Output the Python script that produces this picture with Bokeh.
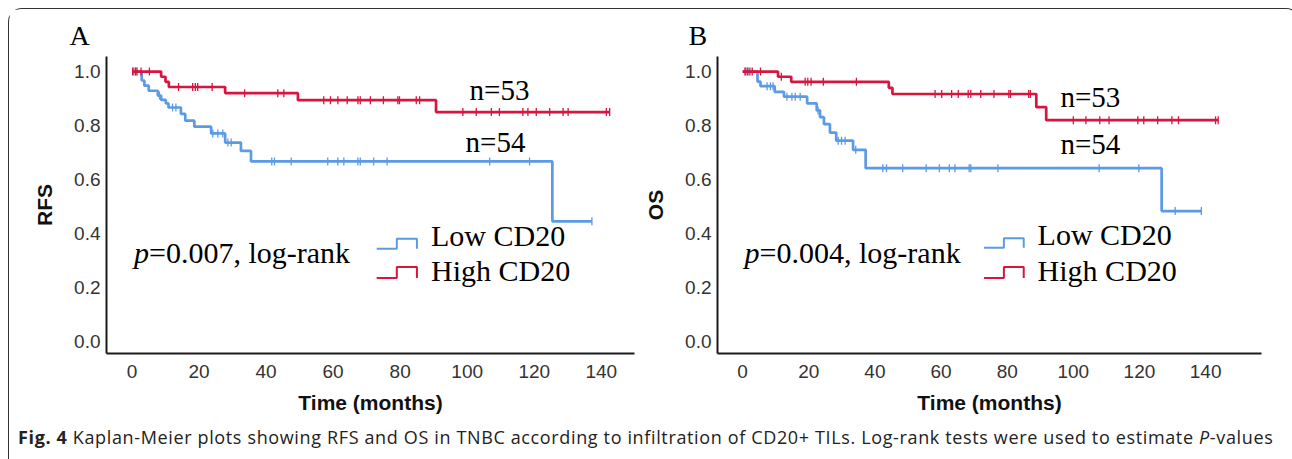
import numpy as np
from bokeh.plotting import figure
from bokeh.models import Label, FixedTicker, PrintfTickFormatter, Range1d, Div, Title
from bokeh.layouts import row, column
from bokeh.embed import file_html
from bokeh.resources import INLINE

# ---------------- data ----------------
x_ticks = [0, 20, 40, 60, 80, 100, 120, 140]
y_ticks = [0.0, 0.2, 0.4, 0.6, 0.8, 1.0]

# Panel A: RFS
rfs_high_t = [0, 8.7, 10.0, 11.0, 27.8, 49.5, 90.7]
rfs_high_s = [1.0, 0.981, 0.962, 0.943, 0.920, 0.894, 0.850]
rfs_high_end = 142.5
rfs_high_cens = [0.2, 1.0, 1.5, 2.7, 5.2, 13.9, 18.1, 18.9, 19.6, 23.9, 33.6, 43.5, 45.3,
                 57.2, 59.2, 61.4, 64.2, 67.4, 68.1, 71.1, 75.0, 79.3, 79.8, 84.8, 85.8,
                 98.7, 102.7, 107.2, 109.6, 116.6, 118.1, 120.6, 124.6, 128.6, 130.1, 141.5, 142.5]

rfs_low_t = [0, 2.9, 3.7, 5.0, 7.7, 8.7, 10.1, 10.9, 14.6, 15.9, 18.6, 23.6, 27.8, 32.5, 35.5, 125.4]
rfs_low_s = [1.0, 0.967, 0.948, 0.929, 0.911, 0.895, 0.882, 0.867, 0.843, 0.818, 0.796, 0.771,
             0.737, 0.706, 0.667, 0.445]
rfs_low_end = 137.2
rfs_low_cens = [0.5, 1.2, 8.2, 12.1, 13.1, 24.1, 25.6, 27.1, 28.6, 29.6, 41.7, 42.5, 47.5, 58.4,
                61.4, 63.2, 67.4, 68.1, 72.1, 76.1, 106.7, 118.6, 137.2]

# Panel B: OS
os_high_t = [0, 10.7, 14.7, 44.2, 45.3, 88.8, 91.8]
os_high_s = [1.0, 0.981, 0.962, 0.940, 0.917, 0.868, 0.820]
os_high_end = 143.8
os_high_cens = [0.7, 1.4, 2.2, 2.9, 5.4, 11.7, 18.9, 19.7, 20.7, 24.4, 34.4, 58.2, 60.2, 63.2,
                65.2, 68.2, 69.0, 72.0, 76.0, 80.5, 81.0, 86.5, 87.0, 100.0, 103.8, 108.0, 110.8,
                119.5, 121.3, 125.5, 129.8, 131.8, 143.0, 143.8]

os_low_t = [0, 4.5, 5.4, 9.7, 12.5, 19.5, 22.4, 23.4, 24.6, 26.4, 28.3, 33.4, 37.2, 126.7]
os_low_s = [1.0, 0.963, 0.946, 0.925, 0.907, 0.882, 0.856, 0.831, 0.805, 0.774, 0.744, 0.710,
            0.642, 0.483]
os_low_end = 138.7
os_low_cens = [0.9, 1.7, 7.4, 8.4, 9.2, 13.4, 14.9, 15.9, 17.4, 22.8, 28.9, 29.9, 31.0, 34.2,
               42.4, 43.5, 48.4, 55.5, 59.5, 62.5, 64.2, 68.5, 69.0, 77.2, 107.8, 119.8, 130.8, 138.7]

low_label = "Low CD20"
high_label = "High CD20"
n_high = "n=53"
n_low = "n=54"

BLUE = "#5b9be6"
RED = "#d7153f"
SERIF = "Liberation Serif"
SANS = "Liberation Sans"


def level_at(times, levels, t):
    idx = np.searchsorted(np.asarray(times), t, side="right") - 1
    return levels[max(idx, 0)]


def km(p, times, levels, end, cens, color):
    xs = list(times) + [end]
    ys = list(levels) + [levels[-1]]
    p.step(xs, ys, mode="after", line_color=color, line_width=2.7)
    cy = [level_at(times, levels, t) for t in cens]
    p.scatter(cens, cy, marker="dash", angle=np.pi / 2, size=8, line_color=color,
              line_width=1.3, fill_color=None)


def make_panel(letter, ylabel, width, left, right, x_end, high, low, pval,
               n_high_pos, n_low_pos, legend_y, letter_offset):
    p = figure(width=width, height=416, output_backend="svg", toolbar_location=None,
               x_range=Range1d(-7.6, x_end), y_range=Range1d(-0.045, 1.056),
               min_border_left=left, min_border_right=right, min_border_top=47,
               min_border_bottom=72)
    p.outline_line_color = None
    p.xgrid.grid_line_color = None
    p.ygrid.grid_line_color = None
    p.background_fill_color = "white"
    p.border_fill_color = "white"

    p.title = Title(text=letter, text_font=SERIF, text_font_size="28px",
                    text_font_style="normal", text_color="black", align="left",
                    offset=letter_offset, standoff=12)

    for ax in (p.xaxis[0], p.yaxis[0]):
        ax.axis_line_color = "#1a1a1a"
        ax.axis_line_width = 2
        ax.major_tick_line_color = None
        ax.minor_tick_line_color = None
        ax.major_tick_out = 0
        ax.major_tick_in = 0
        ax.major_label_text_font = SANS
        ax.major_label_text_font_size = "19px"
        ax.major_label_text_color = "#333333"
        ax.axis_label_text_font = SANS
        ax.axis_label_text_font_size = "21px"
        ax.axis_label_text_font_style = "bold"
        ax.axis_label_text_color = "#111111"

    p.xaxis.ticker = FixedTicker(ticks=x_ticks)
    p.yaxis.ticker = FixedTicker(ticks=y_ticks)
    p.yaxis.formatter = PrintfTickFormatter(format="%.1f")
    p.xaxis.axis_label = "Time (months)"
    p.yaxis.axis_label = ylabel
    p.xaxis.major_label_standoff = 11
    p.yaxis.major_label_standoff = 6
    p.xaxis.axis_label_standoff = 10
    p.yaxis.axis_label_standoff = 15

    km(p, *low, BLUE)
    km(p, *high, RED)

    # n labels
    p.add_layout(Label(x=n_high_pos[0], y=n_high_pos[1], text=n_high, text_font=SERIF,
                       text_font_size="29px", text_color="black"))
    p.add_layout(Label(x=n_low_pos[0], y=n_low_pos[1], text=n_low, text_font=SERIF,
                       text_font_size="29px", text_color="black"))

    # p value
    p.add_layout(Label(x=0.6, y=0.267, text="p", text_font=SERIF, text_font_size="30px",
                       text_font_style="italic", text_color="black"))
    p.add_layout(Label(x=0.6, y=0.267, x_offset=15, text=pval, text_font=SERIF,
                       text_font_size="30px", text_color="black"))

    # legend with step icons
    (lo_top, lo_bot, lo_txt), (hi_top, hi_bot, hi_txt) = legend_y
    p.line([73, 79, 79, 85, 85], [lo_bot, lo_bot, lo_top, lo_top, lo_bot],
           line_color=BLUE, line_width=2)
    p.line([73, 79, 79, 85, 85], [hi_bot, hi_bot, hi_top, hi_top, hi_bot],
           line_color=RED, line_width=2)
    p.add_layout(Label(x=89.2, y=lo_txt, text=low_label, text_font=SERIF,
                       text_font_size="30px", text_color="black"))
    p.add_layout(Label(x=89.2, y=hi_txt, text=high_label, text_font=SERIF,
                       text_font_size="30px", text_color="black"))
    return p


pA = make_panel("A", "RFS", 632, 97, 7, 149.9,
                (rfs_high_t, rfs_high_s, rfs_high_end, rfs_high_cens),
                (rfs_low_t, rfs_low_s, rfs_low_end, rfs_low_cens),
                "=0.007, log-rank", (100.7, 0.874), (99.5, 0.681),
                ((0.380, 0.343, 0.332), (0.276, 0.235, 0.201)), -37)

pB = make_panel("B", "OS", 648, 72, 28, 156.9,
                (os_high_t, os_high_s, os_high_end, os_high_cens),
                (os_low_t, os_low_s, os_low_end, os_low_cens),
                "=0.004, log-rank", (96.1, 0.845), (96.1, 0.673),
                ((0.382, 0.347, 0.335), (0.276, 0.235, 0.201)), -29)

caption = Div(
    text=('<span style="font-weight:bold">Fig. 4</span> Kaplan-Meier plots showing RFS and OS '
          'in TNBC according to infiltration of CD20+ TILs. Log-rank tests were used to '
          'estimate <i>P</i>-values'),
    width=1280, height=27,
    styles={"font-family": "Open Sans", "font-size": "18px", "color": "#222222",
            "white-space": "nowrap", "padding-left": "4px", "line-height": "14px",
            "letter-spacing": "0.64px"})

layout = column(row(pA, pB), caption,
                styles={"border": "1.5px solid #333333", "border-bottom": "none",
                        "border-radius": "14px 14px 0 0", "box-sizing": "border-box",
                        "margin-left": "8px", "margin-top": "8px"})

open("out.html", "w").write(file_html(layout, INLINE))
